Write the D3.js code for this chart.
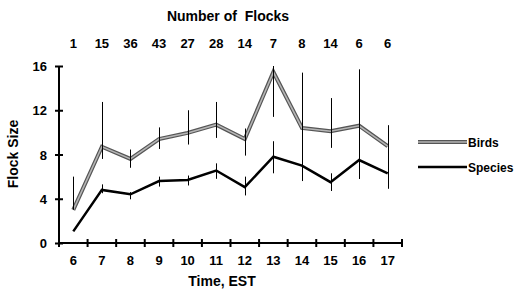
<!DOCTYPE html>
<html>
<head>
<meta charset="utf-8">
<script src="https://cdn.jsdelivr.net/npm/d3@7"></script>
<style>
  body { margin: 0; background: #fff; }
  text { font-family: "Liberation Sans", Arial, sans-serif; font-weight: bold; fill: #000; }
</style>
</head>
<body>
<div id="chart"></div>
<script>
// Data
var hours      = [6, 7, 8, 9, 10, 11, 12, 13, 14, 15, 16, 17];
var flocks     = [1, 15, 36, 43, 27, 28, 14, 7, 8, 14, 6, 6];
var birds      = [3.0, 8.7, 7.6, 9.4, 9.95, 10.7, 9.4, 15.45, 10.4, 10.1, 10.6, 8.75];
var birdsHi    = [6.0, 12.75, 8.45, 10.45, 12.0, 12.75, 10.35, 19.5, 15.4, 13.1, 15.7, 10.65];
var birdsLo    = [3.0, 7.6, 6.8, 8.5, 8.9, 9.5, 7.9, 11.4, 5.6, 8.6, 5.8, 6.9];
var species    = [1.05, 4.8, 4.4, 5.6, 5.7, 6.55, 5.05, 7.8, 7.0, 5.5, 7.5, 6.3];
var speciesHi  = [1.05, 5.3, 4.6, 6.0, 6.1, 7.2, 6.0, 9.2, 7.7, 6.3, 9.2, 7.7];
var speciesLo  = [1.05, 4.5, 3.95, 5.1, 5.2, 5.8, 4.3, 6.3, 5.8, 4.7, 5.8, 4.9];
var yTicks     = [0, 4, 8, 12, 16];

var chart_width = 527;
var chart_height = 299;

var svg = d3.select("#chart")
  .append("svg")
  .attr("width", chart_width)
  .attr("height", chart_height);

// Scales
var x_scale = d3.scaleBand()
  .domain(hours)
  .range([59, 402])
  .padding(0);
var bw = x_scale.bandwidth();
function cx(h) { return x_scale(h) + bw / 2; }

var y_scale = d3.scaleLinear()
  .domain([0, 16])
  .range([243, 66]);
function cy(v) { return y_scale(Math.min(v, 16)); }

// Y axis
var y_axis = d3.axisLeft(y_scale).tickValues(yTicks).tickSize(4).tickPadding(8);
var gy = svg.append("g").attr("transform", "translate(59,0)").call(y_axis);
gy.select(".domain").attr("stroke", "#000").attr("stroke-width", 2).attr("d", "M0,66V243");
gy.selectAll(".tick line").attr("x1", -4).attr("x2", 4).attr("stroke-width", 2);
gy.selectAll(".tick text").style("font-size", "13px").attr("dy", "0.35em");

// X axis (labels at band centres, ticks at band edges)
var x_axis = d3.axisBottom(x_scale).tickSize(0).tickPadding(13);
var gx = svg.append("g").attr("transform", "translate(0,243)").call(x_axis);
gx.select(".domain").attr("stroke", "#000").attr("stroke-width", 2).attr("d", "M59,0H402");
gx.selectAll(".tick text").style("font-size", "13px");
var edges = hours.map(function(h) { return x_scale(h); }).concat([402]);
gx.selectAll("line.edge")
  .data(edges)
  .enter()
  .append("line")
  .attr("class", "edge")
  .attr("x1", function(d) { return d; })
  .attr("x2", function(d) { return d; })
  .attr("y1", -4)
  .attr("y2", 4)
  .attr("stroke", "#000")
  .attr("stroke-width", 2);

// Number of flocks row
svg.append("text")
  .attr("x", 228)
  .attr("y", 21)
  .attr("text-anchor", "middle")
  .style("font-size", "14px")
  .style("white-space", "pre")
  .text("Number of  Flocks");
svg.append("g").selectAll("text")
  .data(flocks)
  .enter()
  .append("text")
  .attr("x", function(d, i) { return cx(hours[i]); })
  .attr("y", 48)
  .attr("text-anchor", "middle")
  .style("font-size", "13px")
  .text(function(d) { return d; });

// Axis titles
svg.append("text")
  .attr("x", 222)
  .attr("y", 286)
  .attr("text-anchor", "middle")
  .style("font-size", "14px")
  .text("Time, EST");
svg.append("text")
  .attr("transform", "translate(18,154) rotate(-90)")
  .attr("text-anchor", "middle")
  .style("font-size", "14px")
  .text("Flock Size");

// Lines
var line = d3.line()
  .x(function(d, i) { return cx(hours[i]); })
  .y(function(d) { return cy(d); });

svg.append("path").datum(birds)
  .attr("d", line).attr("fill", "none")
  .attr("stroke", "#555").attr("stroke-width", 4);
svg.append("path").datum(birds)
  .attr("d", line).attr("fill", "none")
  .attr("stroke", "#b5b5b5").attr("stroke-width", 1.6);

svg.append("path").datum(species)
  .attr("d", line).attr("fill", "none")
  .attr("stroke", "#000").attr("stroke-width", 2.5);

// Error bars
function errBars(lo, hi) {
  svg.append("g").selectAll("line")
    .data(hours)
    .enter()
    .append("line")
    .attr("x1", function(h) { return Math.round(cx(h)) + 0.5; })
    .attr("x2", function(h) { return Math.round(cx(h)) + 0.5; })
    .attr("y1", function(h, i) { return cy(hi[i]); })
    .attr("y2", function(h, i) { return cy(lo[i]); })
    .attr("stroke", "#000")
    .attr("stroke-width", 1);
}
errBars(birdsLo, birdsHi);
errBars(speciesLo, speciesHi);

// Legend
var legend = svg.append("g");
legend.append("line").attr("x1", 418).attr("x2", 467).attr("y1", 142).attr("y2", 142)
  .attr("stroke", "#555").attr("stroke-width", 4);
legend.append("line").attr("x1", 418).attr("x2", 467).attr("y1", 142).attr("y2", 142)
  .attr("stroke", "#b5b5b5").attr("stroke-width", 1.6);
legend.append("text").attr("x", 468).attr("y", 146.5).style("font-size", "12px").text("Birds");
legend.append("line").attr("x1", 418).attr("x2", 467).attr("y1", 167).attr("y2", 167)
  .attr("stroke", "#000").attr("stroke-width", 2.5);
legend.append("text").attr("x", 468).attr("y", 171.5).style("font-size", "12px").text("Species");
</script>
</body>
</html>
